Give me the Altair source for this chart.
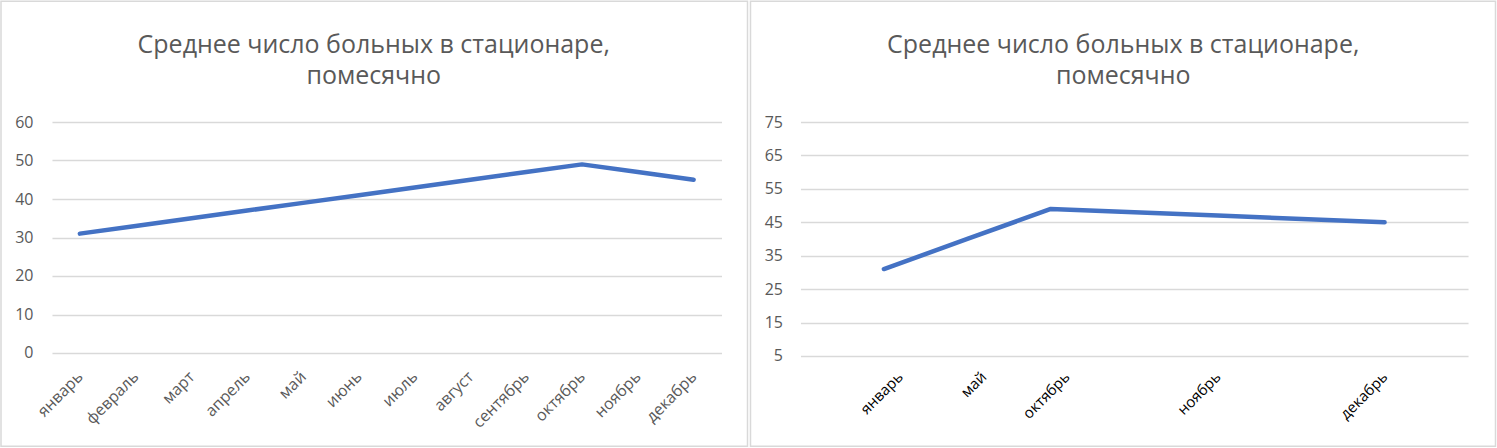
import altair as alt
import pandas as pd

# ---- data ----
months_left = ["январь", "февраль", "март", "апрель", "май", "июнь",
               "июль", "август", "сентябрь", "октябрь", "ноябрь", "декабрь"]
values_left = [31, 33, 35, 37, 39, 41, 43, 45, 47, 49, 47, 45]
ticks_left = [0, 10, 20, 30, 40, 50, 60]

months_right = ["январь", "май", "октябрь", "ноябрь", "декабрь"]
pos_right = [0, 0.5, 1, 2, 3]
values_right = [31, 40, 49, 47, 45]
ticks_right = [5, 15, 25, 35, 45, 55, 65, 75]

title_lines = ["Среднее число больных в стационаре,", "помесячно"]

FONT = "Open Sans"
GREY = "#595959"
GRID = "#d9d9d9"
BLUE = "#4472C4"

one = pd.DataFrame({"k": [0]})


def frame(x1, x2, y1, y2):
    return alt.Chart(one).mark_rect(filled=False, stroke=GRID, strokeWidth=1.5).encode(
        x=alt.value(x1), x2=alt.value(x2), y=alt.value(y1), y2=alt.value(y2)
    )


def title(xc, yc):
    return alt.Chart(one).mark_text(
        font=FONT, fontSize=25, color=GREY, align="center", baseline="middle", lineHeight=31
    ).encode(x=alt.value(xc), y=alt.value(yc), text=alt.value(title_lines))


# ---- left panel ----
WL, HL = 670, 231
dl = pd.DataFrame({"month": months_left, "value": values_left})
line_l = alt.Chart(dl).mark_line(
    color=BLUE, strokeWidth=4.5, strokeCap="round", strokeJoin="round"
).encode(
    x=alt.X("month:N", sort=months_left,
            scale=alt.Scale(type="point", padding=0.5),
            axis=alt.Axis(title=None, labelAngle=-45, labelAlign="right", labelBaseline="middle",
                          ticks=False, domain=False, grid=False, labelPadding=21,
                          labelColor=GREY, labelFontSize=16, labelFont=FONT)),
    y=alt.Y("value:Q", scale=alt.Scale(domain=[0, 60], nice=False, zero=False),
            axis=alt.Axis(title=None, values=ticks_left, grid=True, gridColor=GRID, gridWidth=1.5,
                          ticks=False, domain=False, labelPadding=19,
                          labelColor=GREY, labelFontSize=16, labelFont=FONT)),
)
left = alt.layer(
    frame(-51, 696, -121, 324.5), title(WL / 2 - 13, -77), line_l
).properties(width=WL, height=HL)

# ---- right panel ----
WR, HR = 668, 234
dr = pd.DataFrame({"pos": pos_right, "month": months_right, "value": values_right})
names_js = "[" + ",".join("'" + m + "'" for m in months_right) + "]"
pos_js = "[" + ",".join(str(p) for p in pos_right) + "]"
line_r = alt.Chart(dr).mark_line(
    color=BLUE, strokeWidth=4.5, strokeCap="round", strokeJoin="round"
).encode(
    x=alt.X("pos:Q", scale=alt.Scale(domain=[-0.5, 3.5], nice=False, zero=False),
            axis=alt.Axis(title=None, values=pos_right,
                          labelExpr=f"{names_js}[indexof({pos_js}, datum.value)]",
                          labelAngle=-45, labelAlign="right", labelBaseline="middle",
                          labelOffset={"condition": {"test": "datum.value <= 1", "value": 16}, "value": 0},
                          ticks=False, domain=False, grid=False, labelPadding=18,
                          labelColor="#000000", labelFontSize=15, labelFont=FONT)),
    y=alt.Y("value:Q", scale=alt.Scale(domain=[5, 75], nice=False, zero=False),
            axis=alt.Axis(title=None, values=ticks_right, grid=True, gridColor=GRID, gridWidth=1.5,
                          ticks=False, domain=False, labelPadding=18,
                          labelColor=GREY, labelFontSize=16, labelFont=FONT)),
)
right = alt.layer(
    frame(-50, 695.5, -121, 324.5), title(WR / 2 - 11, -77), line_r
).properties(width=WR, height=HR)

chart = alt.hconcat(left, right, spacing=1).properties(
    padding=0, background="white"
).configure_view(stroke=None)

chart.save("out.html", embed_options={"renderer": "svg", "actions": False})
